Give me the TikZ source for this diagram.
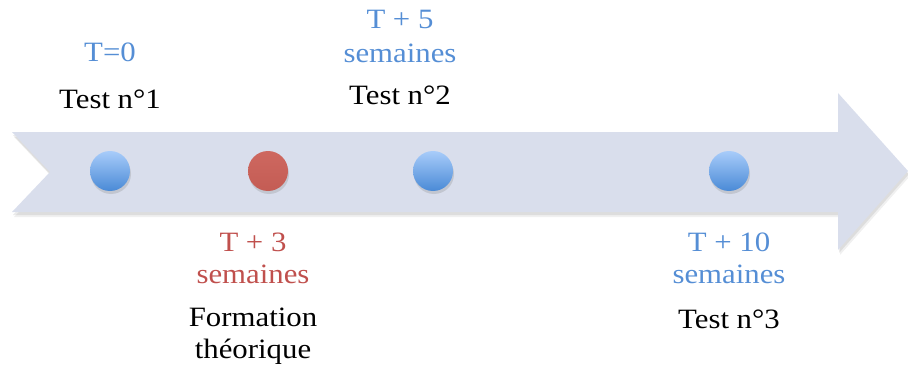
\documentclass[tikz,border=0pt]{standalone}
\usepackage{fontspec}
\setmainfont{Liberation Serif}[FakeStretch=1.1]
\usetikzlibrary{shadows}
\definecolor{arrowfill}{RGB}{217,222,236}
\definecolor{tblue}{RGB}{85,142,213}
\definecolor{tred}{RGB}{192,80,77}
\definecolor{dottop}{RGB}{168,204,250}
\definecolor{dotbot}{RGB}{74,138,214}
\definecolor{redtop}{RGB}{206,104,96}
\definecolor{redbot}{RGB}{196,92,84}
\tikzset{
  lbl/.style={font=\fontsize{28}{32}\selectfont, inner sep=0pt, anchor=base},
  bluelbl/.style={lbl, text=tblue},
  redlbl/.style={lbl, text=tred},
  blacklbl/.style={lbl, text=black},
  bluedot/.style={circle, minimum size=40pt, inner sep=0pt, top color=dottop, bottom color=dotbot,
     drop shadow={shadow xshift=1pt, shadow yshift=-3pt, opacity=0.25}},
  reddot/.style={circle, minimum size=40pt, inner sep=0pt, top color=redtop, bottom color=redbot,
     drop shadow={shadow xshift=1pt, shadow yshift=-3pt, opacity=0.25}},
  arrowshape/.style={},
}
\begin{document}
\begin{tikzpicture}[x=1pt,y=1pt]
\useasboundingbox (0,0) rectangle (908,365);
% arrow shadow
\fill[black, opacity=0.08, shift={(1,-3)}] (12,233) -- (838,233) -- (838,272) -- (908,194) -- (838,115) -- (838,153) -- (12,153) -- (50,193) -- cycle;
\fill[black, opacity=0.06, shift={(2,-5)}] (12,233) -- (838,233) -- (838,272) -- (908,194) -- (838,115) -- (838,153) -- (12,153) -- (50,193) -- cycle;
% arrow
\fill[arrowfill] (12,233) -- (838,233) -- (838,272) -- (908,194) -- (838,115) -- (838,153) -- (12,153) -- (50,193) -- cycle;
% dots
\node[bluedot] (d1) at (110,194) {};
\node[reddot] (d2) at (268,194) {};
\node[bluedot] (d3) at (433,194) {};
\node[bluedot] (d4) at (729,194) {};
% labels above
\node[bluelbl] (t0) at (110,303) {T=0};
\node[blacklbl] (test1) at (110,256) {Test n°1};
\node[bluelbl] (t5) at (400,336) {T + 5};
\node[bluelbl] (sem5) at (400,302) {semaines};
\node[blacklbl] (test2) at (400,261) {Test n°2};
% labels below
\node[redlbl] (t3) at (253,114) {T + 3};
\node[redlbl] (sem3) at (253,82) {semaines};
\node[blacklbl] (form) at (253,39) {Formation};
\node[blacklbl] (theo) at (253,7) {théorique};
\node[bluelbl] (t10) at (729,114) {T + 10};
\node[bluelbl] (sem10) at (729,82) {semaines};
\node[blacklbl] (test3) at (729,37) {Test n°3};
\end{tikzpicture}
\end{document}
